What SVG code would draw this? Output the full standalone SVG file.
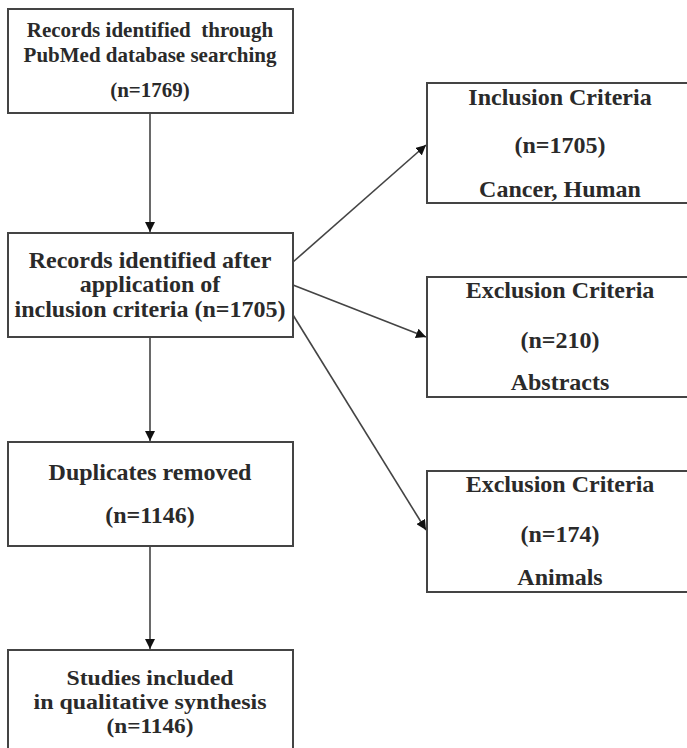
<svg xmlns="http://www.w3.org/2000/svg" width="687" height="748" viewBox="0 0 687 748">
<style>
.box{fill:#fff;stroke:#444;stroke-width:2}
.t{font-family:'Liberation Serif','DejaVu Serif',serif;font-weight:bold;font-size:24px;fill:#2a2a2a;text-anchor:middle}
.s{font-size:21px}
.m{font-size:21px}
.c{stroke:#444;stroke-width:1.6;fill:none;marker-end:url(#ah)}
</style>
<defs>
<marker id="ah" viewBox="0 0 10 10" refX="10" refY="5" markerWidth="10" markerHeight="10" markerUnits="userSpaceOnUse" orient="auto">
<path d="M0,0 L10,5 L0,10 z" fill="#111"/>
</marker>
</defs>
<rect width="687" height="748" fill="#fff"/>
<g id="connectors">
<line class="c" x1="150" y1="113" x2="150" y2="232"/>
<line class="c" x1="150" y1="337" x2="150" y2="441"/>
<line class="c" x1="150" y1="546" x2="150" y2="649"/>
<line class="c" x1="293" y1="262" x2="426" y2="145"/>
<line class="c" x1="293" y1="285" x2="426" y2="337"/>
<line class="c" x1="293" y1="315" x2="426" y2="530"/>
</g>
<g id="n1"><rect class="box" x="8" y="9" width="285" height="104"/>
<text class="t s" x="150" y="37" xml:space="preserve">Records identified  through</text>
<text class="t s" x="150" y="62">PubMed database searching</text>
<text class="t s" x="150" y="97">(n=1769)</text></g>
<g id="n2"><rect class="box" x="8" y="233" width="285" height="104"/>
<text class="t" x="150" y="268">Records identified after</text>
<text class="t" x="150" y="292">application of</text>
<text class="t" x="150" y="317">inclusion criteria (n=1705)</text></g>
<g id="n3"><rect class="box" x="8" y="442" width="285" height="104"/>
<text class="t" x="150" y="480">Duplicates removed</text>
<text class="t" x="150" y="523">(n=1146)</text></g>
<g id="n4"><rect class="box" x="8" y="650" width="285" height="110"/>
<text class="t m" x="150" y="685" textLength="167" lengthAdjust="spacingAndGlyphs">Studies included</text>
<text class="t m" x="150" y="709" textLength="233" lengthAdjust="spacingAndGlyphs">in qualitative synthesis</text>
<text class="t m" x="150" y="733" textLength="87" lengthAdjust="spacingAndGlyphs">(n=1146)</text></g>
<g id="n5"><rect class="box" x="427" y="83" width="268" height="120"/>
<text class="t" x="560" y="105">Inclusion Criteria</text>
<text class="t" x="560" y="153">(n=1705)</text>
<text class="t" x="560" y="197">Cancer, Human</text></g>
<g id="n6"><rect class="box" x="427" y="277" width="268" height="120"/>
<text class="t" x="560" y="298">Exclusion Criteria</text>
<text class="t" x="560" y="348">(n=210)</text>
<text class="t" x="560" y="390">Abstracts</text></g>
<g id="n7"><rect class="box" x="427" y="471" width="268" height="121"/>
<text class="t" x="560" y="492">Exclusion Criteria</text>
<text class="t" x="560" y="542">(n=174)</text>
<text class="t" x="560" y="585">Animals</text></g>
</svg>
